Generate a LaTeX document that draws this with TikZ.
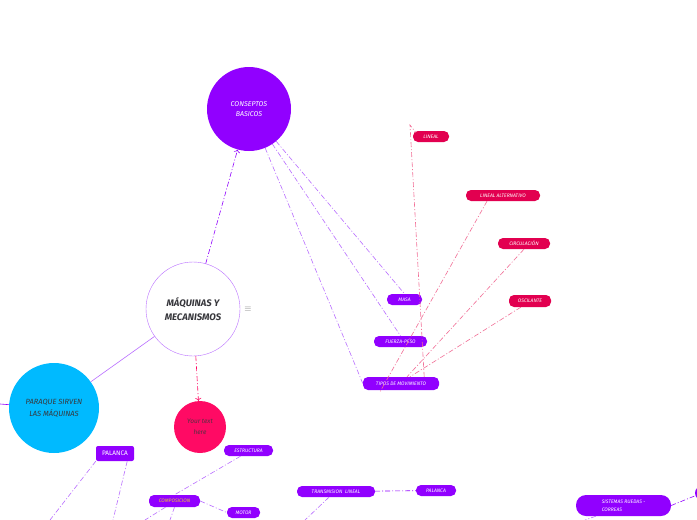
\documentclass[tikz,border=0pt]{standalone}
\usepackage{fontspec}
\setmainfont{Fira Sans}
\usetikzlibrary{arrows.meta, positioning, calc}
\definecolor{mmpurple}{RGB}{145,0,255}
\definecolor{mmred}{RGB}{226,0,80}
\definecolor{mmpink}{RGB}{255,10,100}
\definecolor{mmcyan}{RGB}{0,186,255}
\definecolor{mmedge}{RGB}{185,110,255}
\definecolor{mmlink}{RGB}{242,110,150}
\definecolor{mmyellow}{RGB}{240,205,40}
\definecolor{mmtext}{RGB}{55,55,60}

\tikzset{
  topic/.style={circle, align=center, inner sep=0pt},
  pill/.style={rounded corners=5pt, fill=mmpurple, text=white, inner sep=0pt, align=center,
    font=\fontsize{5}{6}\selectfont\itshape},
  redpill/.style={pill, fill=mmred},
  plink/.style={mmedge, dash pattern=on 5pt off 2pt on 1pt off 2pt, line width=0.6pt},
  rlink/.style={mmlink, dash pattern=on 5pt off 2pt on 1pt off 2pt, line width=0.6pt},
  solidlink/.style={mmedge, line width=0.6pt},
}

\begin{document}
\begin{tikzpicture}[x=1pt, y=-1pt]
  \useasboundingbox (0,0) rectangle (697,520);
  \fill[white] (0,0) rectangle (697,520);
  \clip (0,0) rectangle (697,520);

  % main topics
  \node[topic, fill=mmpurple, minimum size=84pt, text=white,
        font=\fontsize{7}{10}\selectfont\itshape] (consep) at (249,109) {CONSEPTOS\\BASICOS};
  \node[topic, draw=mmedge, fill=white, minimum size=94pt, text=mmtext,
        font=\fontsize{9.5}{14}\selectfont\bfseries\itshape] (maq) at (193,309) {MÁQUINAS Y\\MECANISMOS};
  \node[text=gray, font=\small] (menu) at (248,309) {$\equiv$};
  \node[topic, fill=mmcyan, minimum size=90pt, text=mmtext,
        font=\fontsize{7.5}{12}\selectfont\itshape] (para) at (54,408) {PARAQUE SIRVEN\\LAS MÁQUINAS};
  \node[topic, fill=mmpink, minimum size=52pt, text=mmtext!85!mmpink,
        font=\fontsize{6.5}{11}\selectfont\itshape] (yours) at (200,427) {Your text\\here};

  % conceptos
  \node[pill, minimum width=35pt, minimum height=11pt] (masa) at (404.5,299.5) {MASA};
  \node[pill, minimum width=53pt, minimum height=11pt] (fuerza) at (400.5,341.5) {FUERZA-PESO};
  \node[pill, minimum width=76pt, minimum height=13pt] (tipos) at (401,383.5) {TIPOS DE MOVIMIENTO};
  \node[redpill, minimum width=36pt, minimum height=11pt] (lineal) at (431,136.5) {LINEAL};
  \node[redpill, minimum width=74pt, minimum height=11pt] (linalt) at (503,195.5) {LINEAL ALTERNATIVO};
  \node[redpill, minimum width=52pt, minimum height=11pt] (circ) at (524,243.5) {CIRCULACIÓN};
  \node[redpill, minimum width=42pt, minimum height=12pt] (osc) at (530,301) {OSCILANTE};

  % lower part
  \node[pill, rounded corners=2pt, minimum width=38pt, minimum height=15pt,
        font=\fontsize{6.5}{8}\selectfont] (palanca) at (115,453.5) {PALANCA};
  \node[pill, minimum width=49pt, minimum height=11pt] (estruct) at (248.5,450.5) {ESTRUCTURA};
  \node[pill, minimum width=51pt, minimum height=12pt, text=mmyellow] (compos) at (174.5,501) {COMPOSICION};
  \node[pill, minimum width=33pt, minimum height=11pt] (motor) at (243.5,512.5) {MOTOR};
  \node[pill, minimum width=78pt, minimum height=11pt] (translin) at (336,491.5) {TRANSMISION\ \ LINEAL};
  \node[pill, minimum width=40pt, minimum height=11pt] (palanca2) at (436,490.5) {PALANCA};
  \node[pill, rounded corners=10pt, minimum width=95pt, minimum height=21pt,
        font=\fontsize{5}{8}\selectfont\itshape, align=left] (sistemas) at (623.5,505.5) {SISTEMAS RUEDAS -\\CORREAS\hspace{22pt}};
  \node[circle, fill=mmpurple, minimum size=14pt, inner sep=0pt] (edge) at (702,493) {};

  % free ends
  \coordinate (pleft) at (0,404);
  \coordinate (bend) at (410,125);
  \coordinate (pa1) at (50,520);
  \coordinate (pa2) at (113,520);
  \coordinate (co1) at (145,520);
  \coordinate (co2) at (170,520);
  \coordinate (tr1) at (305,520);
  \coordinate (si1) at (585,520);

  % connectors
  \draw[plink, mmpurple, ->] (maq) -- (consep);
  \draw[rlink, mmpink, ->] (maq) -- (yours);
  \draw[solidlink] (maq) -- (para);
  \draw[solidlink, mmpurple] (para) -- (pleft);
  \draw[plink] (consep) -- (masa.north);
  \draw[plink] (consep) -- (fuerza.north);
  \draw[plink] (consep) -- (tipos.west);
  \draw[rlink] (tipos.north east) ++(-15,0) -- (bend) -- ($(lineal.west)+(3,-4)$);
  \draw[rlink] (linalt.south) ++(-16,0) -- ($(tipos.south west)+(17,2)$);
  \draw[rlink] (circ.south) -- ($(tipos.north)+(6,0)$);
  \draw[rlink] (osc.south west) ++(12,0) -- ($(tipos.north)+(9,0)$);
  \draw[plink] (palanca.south west) -- (pa1);
  \draw[plink] ($(palanca.south east)+(-7,0)$) -- (pa2);
  \draw[plink] (estruct.south) ++(-8,0) -- (compos.north);
  \draw[plink] (compos.east) -- (motor.west);
  \draw[plink] (compos.south) ++(-9,0) -- (co1);
  \draw[plink] (compos.south) -- (co2);
  \draw[plink, mmpurple] (translin) -- (palanca2);
  \draw[plink] (translin.south) ++(-7,0) -- (tr1);
  \draw[plink, mmpurple] (sistemas.east) -- (edge);
  \draw[plink] (sistemas.south west) ++(20,0) -- (si1);
\end{tikzpicture}
\end{document}
